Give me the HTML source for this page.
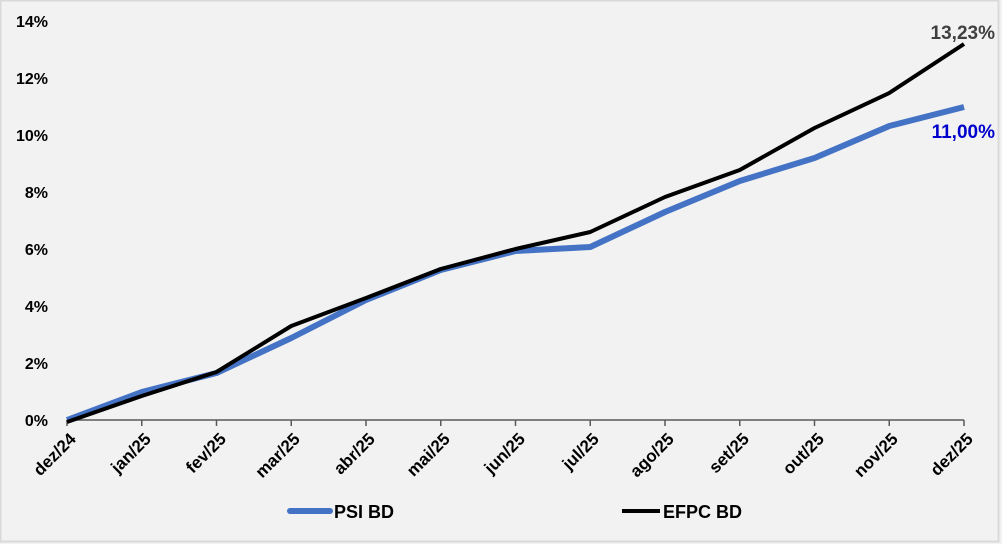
<!DOCTYPE html>
<html><head><meta charset="utf-8"><style>
html,body{margin:0;padding:0;background:#f2f2f2;}
svg{display:block;font-family:"Liberation Sans",sans-serif;}
</style></head><body>
<svg width="1002" height="544" viewBox="0 0 1002 544">
<rect x="0.5" y="0.5" width="998" height="541" fill="#f2f2f2" stroke="#d9d9d9" stroke-width="2"/>
<g font-size="16" font-weight="bold" fill="#000" text-anchor="end">
<text x="48" y="426">0%</text><text x="48" y="369">2%</text><text x="48" y="312">4%</text>
<text x="48" y="255">6%</text><text x="48" y="198">8%</text><text x="48" y="141">10%</text>
<text x="48" y="84">12%</text><text x="48" y="27">14%</text>
</g>
<line x1="67" y1="420" x2="964" y2="420" stroke="#595959" stroke-width="1.5"/>
<g stroke="#595959" stroke-width="1.5">
<line x1="67" y1="420" x2="67" y2="426"/><line x1="141.75" y1="420" x2="141.75" y2="426"/><line x1="216.5" y1="420" x2="216.5" y2="426"/><line x1="291.25" y1="420" x2="291.25" y2="426"/><line x1="366" y1="420" x2="366" y2="426"/><line x1="440.75" y1="420" x2="440.75" y2="426"/><line x1="515.5" y1="420" x2="515.5" y2="426"/><line x1="590.25" y1="420" x2="590.25" y2="426"/><line x1="665" y1="420" x2="665" y2="426"/><line x1="739.75" y1="420" x2="739.75" y2="426"/><line x1="814.5" y1="420" x2="814.5" y2="426"/><line x1="889.25" y1="420" x2="889.25" y2="426"/><line x1="964" y1="420" x2="964" y2="426"/>
</g>
<g font-size="17" font-weight="bold" fill="#000" text-anchor="end">
<text transform="translate(77,440) rotate(-45)">dez/24</text>
<text transform="translate(152,440) rotate(-45)">jan/25</text>
<text transform="translate(227,440) rotate(-45)">fev/25</text>
<text transform="translate(301,440) rotate(-45)">mar/25</text>
<text transform="translate(376,440) rotate(-45)">abr/25</text>
<text transform="translate(451,440) rotate(-45)">mai/25</text>
<text transform="translate(526,440) rotate(-45)">jun/25</text>
<text transform="translate(600,440) rotate(-45)">jul/25</text>
<text transform="translate(675,440) rotate(-45)">ago/25</text>
<text transform="translate(750,440) rotate(-45)">set/25</text>
<text transform="translate(825,440) rotate(-45)">out/25</text>
<text transform="translate(899,440) rotate(-45)">nov/25</text>
<text transform="translate(974,440) rotate(-45)">dez/25</text>
</g>
<polyline fill="none" stroke="#4472c4" stroke-width="6" stroke-linejoin="round" points="67,420 141.75,392 216.5,373 291.25,338 366,300 440.75,270 515.5,251 590.25,247 665,212 739.75,181 814.5,158 889.25,126 964,107"/>
<polyline fill="none" stroke="#000" stroke-width="4" stroke-linejoin="round" points="67,422 141.75,396 216.5,372 291.25,326 366,298 440.75,269 515.5,249 590.25,232 665,197 739.75,170 814.5,128 889.25,93 964,44"/>
<text x="995" y="39" font-size="19" font-weight="bold" fill="#404040" text-anchor="end">13,23%</text>
<text x="995" y="138" font-size="19" font-weight="bold" fill="#0000cc" text-anchor="end">11,00%</text>
<line x1="290" y1="511" x2="330" y2="511" stroke="#4472c4" stroke-width="6" stroke-linecap="round"/>
<text x="334" y="518" font-size="18" font-weight="bold">PSI BD</text>
<line x1="622" y1="511" x2="660" y2="511" stroke="#000" stroke-width="4"/>
<text x="663" y="518" font-size="18" font-weight="bold">EFPC BD</text>
</svg>
</body></html>
